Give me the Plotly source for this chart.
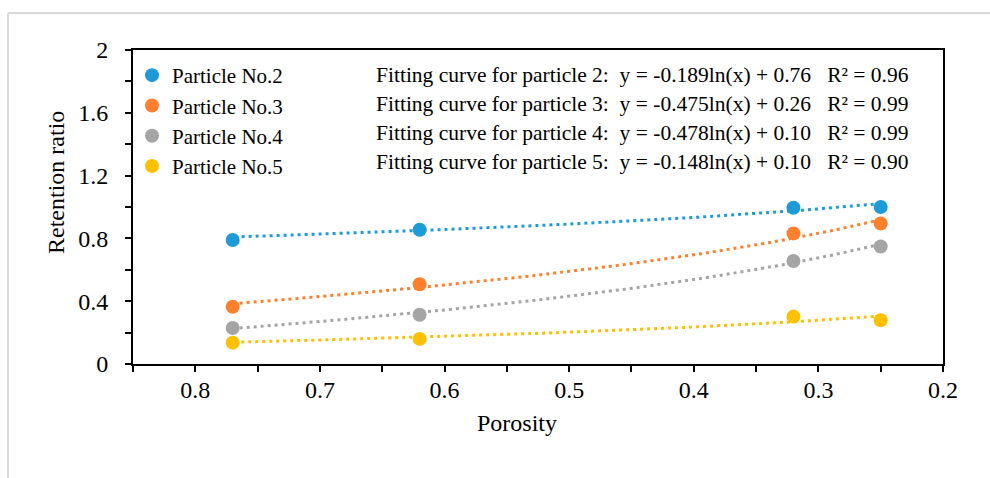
import numpy as np
import plotly.graph_objects as go

# ---------------- data ----------------
porosity = [0.77, 0.62, 0.32, 0.25]
particle2 = [0.79, 0.855, 0.995, 1.0]
particle3 = [0.365, 0.508, 0.832, 0.895]
particle4 = [0.229, 0.314, 0.656, 0.748]
particle5 = [0.136, 0.160, 0.302, 0.279]

series_names = ["Particle No.2", "Particle No.3", "Particle No.4", "Particle No.5"]
series_values = [particle2, particle3, particle4, particle5]
colors = ["#1E9BD7", "#FE7F2C", "#A5A5A5", "#FFC000"]

# fitted log-trend coefficients: y = a*ln(x) + b
fit_a = [-0.189, -0.475, -0.478, -0.148]
fit_b = [0.76, 0.26, 0.10, 0.10]
fit_r2 = ["0.96", "0.99", "0.99", "0.90"]
fit_particle = ["2", "3", "4", "5"]

x_ticks = [0.8, 0.7, 0.6, 0.5, 0.4, 0.3, 0.2]
y_ticks = [0, 0.4, 0.8, 1.2, 1.6, 2]
y_tick_text = ["0", "0.4", "0.8", "1.2", "1.6", "2"]

x_title = "Porosity"
y_title = "Retention ratio"

FONT = "Liberation Serif, Times New Roman, serif"

fig = go.Figure()

xfit = np.linspace(min(porosity), max(porosity), 200)
for i in range(4):
    yfit = fit_a[i] * np.log(xfit) + fit_b[i]
    fig.add_trace(go.Scatter(
        x=xfit, y=yfit, mode="lines",
        line=dict(color=colors[i], width=3, dash="3px,4px"),
        showlegend=False, hoverinfo="skip",
    ))

for i in range(4):
    fig.add_trace(go.Scatter(
        x=porosity, y=series_values[i], mode="markers",
        name=series_names[i], legendgroup=series_names[i],
        marker=dict(color=colors[i], size=14, line=dict(width=0)),
    ))

# plot area in pixels: left 133, right 943, top 50, bottom 364
L, R, T, B = 133, 943, 50, 364
def px(p):
    return (p - L) / (R - L)
def py(q):
    return (B - q) / (B - T)

row_y = [75, 104, 133, 162]
for i in range(4):
    fig.add_annotation(
        x=px(374), y=py(row_y[i]), xref="paper", yref="paper",
        xanchor="left", yanchor="middle", showarrow=False,
        text=(f"Fitting curve for particle {fit_particle[i]}:\u00a0 "
              f"y = {fit_a[i]:.3f}ln(x) + {fit_b[i]:.2f}\u00a0\u00a0 R² = {fit_r2[i]}"),
        font=dict(family=FONT, size=21.5, color="#000000"),
    )

# axis titles
fig.add_annotation(x=px(517), y=py(423), xref="paper", yref="paper",
                   xanchor="center", yanchor="middle", showarrow=False,
                   text=x_title, font=dict(family=FONT, size=24, color="#000000"))
fig.add_annotation(x=px(56), y=py(183), xref="paper", yref="paper",
                   xanchor="center", yanchor="middle", showarrow=False, textangle=-90,
                   text=y_title, font=dict(family=FONT, size=24, color="#000000"))

# outer light-gray frame
frame = dict(color="#D9D9D9", width=2)
fig.add_shape(type="line", xref="paper", yref="paper",
              x0=px(8), x1=px(1000), y0=py(13), y1=py(13), line=frame)
fig.add_shape(type="line", xref="paper", yref="paper",
              x0=px(8), x1=px(8), y0=py(13), y1=py(478), line=frame)

fig.update_layout(
    width=990, height=478,
    margin=dict(l=L, r=990 - R, t=T, b=478 - B),
    paper_bgcolor="white", plot_bgcolor="white",
    font=dict(family=FONT, size=21, color="#000000"),
    legend=dict(
        x=px(132), y=py(55), xanchor="left", yanchor="top",
        bgcolor="rgba(0,0,0,0)", traceorder="grouped", tracegroupgap=0,
        font=dict(family=FONT, size=21, color="#000000"),
        itemwidth=30,
    ),
    xaxis=dict(
        range=[0.85, 0.2], tickvals=x_ticks, ticktext=[str(v) for v in x_ticks],
        showline=True, linecolor="black", linewidth=2, mirror=True,
        ticks="outside", ticklen=6, tickwidth=1.5, tickcolor="black",
        minor=dict(dtick=0.05, ticks="outside", ticklen=6, tickwidth=1.5, tickcolor="black", showgrid=False),
        showgrid=False, zeroline=False,
        tickfont=dict(family=FONT, size=24),
        ticklabelstandoff=-3,
    ),
    yaxis=dict(
        range=[0, 2], tickvals=y_ticks, ticktext=y_tick_text,
        showline=True, linecolor="black", linewidth=2, mirror=True,
        ticks="outside", ticklen=6, tickwidth=1.5, tickcolor="black",
        minor=dict(dtick=0.2, ticks="outside", ticklen=6, tickwidth=1.5, tickcolor="black", showgrid=False),
        showgrid=False, zeroline=False,
        tickfont=dict(family=FONT, size=24),
        ticklabelstandoff=12,
    ),
)

fig.write_html("out.html")
